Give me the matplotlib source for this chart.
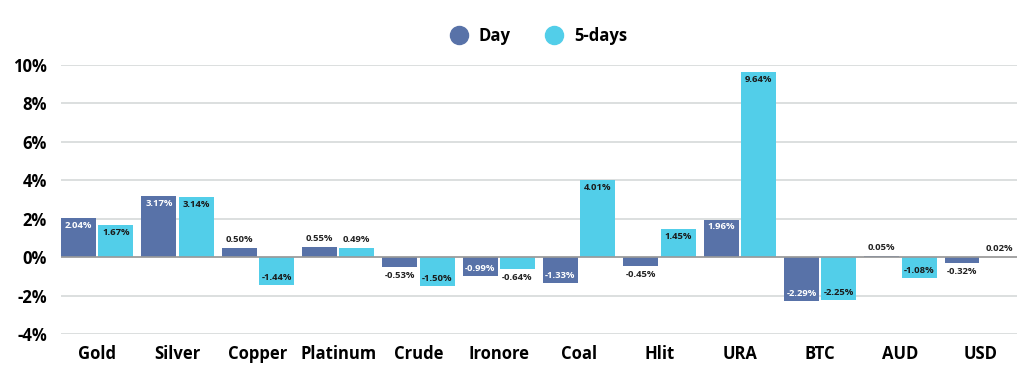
import matplotlib
matplotlib.use("Agg")
import matplotlib.pyplot as plt
import numpy as np
from matplotlib.lines import Line2D

categories = ["Gold", "Silver", "Copper", "Platinum", "Crude", "Ironore",
              "Coal", "Hlit", "URA", "BTC", "AUD", "USD"]
day = [2.04, 3.17, 0.50, 0.55, -0.53, -0.99, -1.33, -0.45, 1.96, -2.29, 0.05, -0.32]
five_days = [1.67, 3.14, -1.44, 0.49, -1.50, -0.64, 4.01, 1.45, 9.64, -2.25, -1.08, 0.02]
yticks = [-4, -2, 0, 2, 4, 6, 8, 10]

c_day = "#5872A8"
c_5d = "#52CEE9"
fam = ["Open Sans", "DejaVu Sans"]

fig = plt.figure(figsize=(10.24, 3.74), dpi=100)
ax = fig.add_axes([0.0596, 0.107, 0.9334, 0.719])

x = np.arange(len(categories))
w = 0.435
gap = 0.015
b1 = ax.bar(x - w / 2 - gap, day, width=w, color=c_day, zorder=3)
b2 = ax.bar(x + w / 2 + gap, five_days, width=w, color=c_5d, zorder=3)

ax.set_xlim(-0.45, len(categories) - 0.55)
ax.set_ylim(-4, 10)
ax.set_yticks(yticks)
ax.set_yticklabels([f"{t}%" for t in yticks], fontsize=12, fontweight="bold", family=fam)
ax.set_xticks(x)
ax.set_xticklabels(categories, fontsize=12, fontweight="bold", family=fam)
ax.tick_params(axis="both", length=0)
ax.tick_params(axis="y", pad=10)
ax.tick_params(axis="x", pad=8)
for s in ax.spines.values():
    s.set_visible(False)
ax.grid(axis="y", color="#d6d9d9", linewidth=1.2, zorder=0)
ax.axhline(0, color="#9a9a9a", linewidth=1.2, zorder=4)

def label(bars, vals, inside_color):
    for b, v in zip(bars, vals):
        cx = b.get_x() + b.get_width() / 2
        txt = f"{v:.2f}%"
        kw = dict(ha="center", fontsize=6.8, fontweight="bold", family=fam, zorder=5)
        if abs(v) >= 0.8:
            if v > 0:
                ax.text(cx, v - 0.15, txt, va="top", color=inside_color, **kw)
            else:
                ax.text(cx, v + 0.15, txt, va="bottom", color=inside_color, **kw)
        else:
            if v >= 0:
                ax.text(cx, v + 0.2, txt, va="bottom", color="#222222", **kw)
            else:
                ax.text(cx, v - 0.2, txt, va="top", color="#222222", **kw)

label(b1, day, "white")
label(b2, five_days, "#1a1a1a")

handles = [Line2D([], [], marker="o", linestyle="", markersize=13, color=c_day),
           Line2D([], [], marker="o", linestyle="", markersize=13, color=c_5d)]
leg = fig.legend(handles, ["Day", "5-days"], loc="center", bbox_to_anchor=(0.522, 0.905),
                 ncol=2, frameon=False, handletextpad=0.2, columnspacing=1.6,
                 prop={"family": fam, "weight": "bold", "size": 12})

fig.savefig("out.png", dpi=100, facecolor="white")
